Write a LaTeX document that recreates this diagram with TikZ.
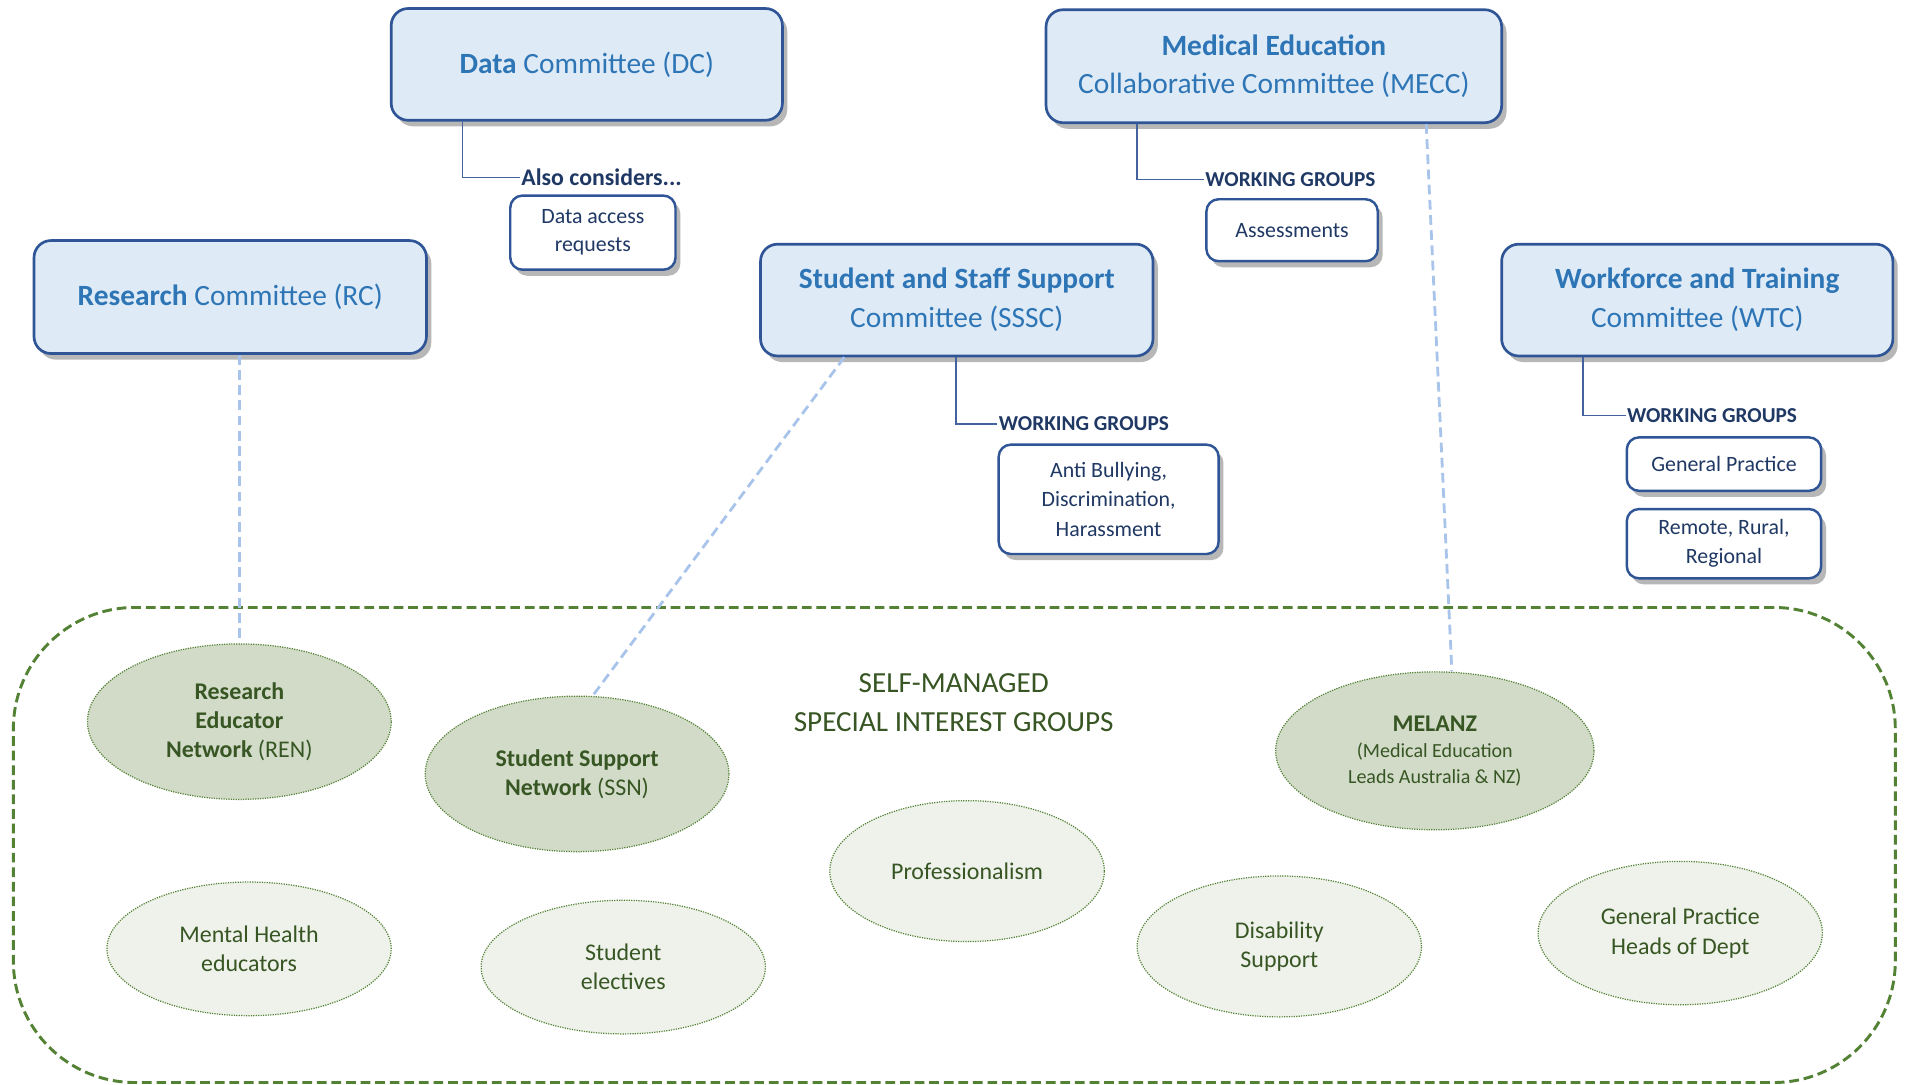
\documentclass[tikz,border=0pt]{standalone}
\usepackage{fontspec}
\setmainfont{Carlito}
\usetikzlibrary{shapes.geometric,shadows}
\definecolor{boxfill}{HTML}{DEEBF7}
\definecolor{boxline}{HTML}{2F5597}
\definecolor{titleblue}{HTML}{2E75B6}
\definecolor{navy}{HTML}{1F3864}
\definecolor{connline}{HTML}{44639E}
\definecolor{linkblue}{HTML}{A9C4EB}
\definecolor{grline}{HTML}{548235}
\definecolor{grtext}{HTML}{375623}
\definecolor{grdark}{HTML}{D1DBC8}
\definecolor{grlight}{HTML}{EEF2EA}
\begin{document}
\begin{tikzpicture}[x=1pt,y=-1pt,
 boxshadow/.style={drop shadow={shadow xshift=4pt, shadow yshift=-5pt, opacity=0.4, fill=black!70}},
 committee/.style={draw=boxline, line width=2.2pt, fill=boxfill, rounded corners=14pt, align=center, text=titleblue, font=\fontsize{24.2}{32}\selectfont, inner sep=0pt, boxshadow},
 wgbox/.style={draw=boxline, line width=2pt, fill=white, rounded corners=10pt, align=center, text=navy, font=\fontsize{18}{24}\selectfont, inner sep=0pt, boxshadow},
 wglabel/.style={anchor=west, text=navy, font=\bfseries\fontsize{17.5}{18}\selectfont, inner sep=1pt},
 conn/.style={draw=connline, line width=1pt},
 link/.style={draw=linkblue, line width=2.3pt, dash pattern=on 8pt off 4.5pt},
 sigdark/.style={ellipse, draw=grline, densely dotted, line width=1pt, fill=grdark, text=grtext, align=center, inner sep=0pt, font=\fontsize{19.7}{24}\selectfont},
 siglight/.style={sigdark, fill=grlight},
]
\fill[white] (0,0) rectangle (1568,893);
\useasboundingbox (0,0) rectangle (1568,893);

% outer group
\node[draw=grline, line width=2.4pt, dash pattern=on 8pt off 4pt, rounded corners=100pt, minimum width=1549pt, minimum height=391pt, inner sep=0pt] (sig) at (785.5,695.5) {};
\node[text=grtext, align=center, font=\fontsize{24}{32}\selectfont] (sigtitle) at (785,578) {SELF-MANAGED\\SPECIAL INTEREST GROUPS};

% committees
\node[committee, minimum width=322pt, minimum height=92pt] (dc) at (483,53) {\textbf{Data} Committee (DC)};
\node[committee, minimum width=323pt, minimum height=93pt] (rc) at (189.5,244.5) {\textbf{Research} Committee (RC)};
\node[committee, minimum width=323pt, minimum height=92pt] (sssc) at (787.5,247) {\textbf{Student and Staff Support}\\Committee (SSSC)};
\node[committee, minimum width=375pt, minimum height=93pt] (mecc) at (1048.5,54.5) {\textbf{Medical Education}\\Collaborative Committee (MECC)};
\node[committee, minimum width=322pt, minimum height=92pt] (wtc) at (1397,247) {\textbf{Workforce and Training}\\Committee (WTC)};

% labels
\node[wglabel, font=\bfseries\fontsize{19.6}{20}\selectfont] (also) at (428,146) {Also considers...};
\node[wglabel] (wgsssc) at (821,349) {WORKING GROUPS};
\node[wglabel] (wgmecc) at (991,148) {WORKING GROUPS};
\node[wglabel] (wgwtc) at (1338,342) {WORKING GROUPS};

% working group boxes
\node[wgbox, minimum width=136pt, minimum height=61pt, font=\fontsize{18}{23}\selectfont] (dar) at (488,191.5) {Data access\\requests};
\node[wgbox, minimum width=181pt, minimum height=90pt] (abdh) at (912.5,411) {Anti Bullying,\\Discrimination,\\Harassment};
\node[wgbox, minimum width=141pt, minimum height=51pt] (assess) at (1063.5,189.5) {Assessments};
\node[wgbox, minimum width=160pt, minimum height=44pt] (gp) at (1419,382) {General Practice};
\node[wgbox, minimum width=160pt, minimum height=57pt] (rrr) at (1419,447.5) {Remote, Rural,\\Regional};

% connectors
\draw[conn] ([xshift=60pt]dc.south west) |- (also.west);
\draw[conn] ([xshift=162pt]sssc.south west) |- (wgsssc.west);
\draw[conn] ([xshift=76pt]mecc.south west) |- (wgmecc.west);
\draw[conn] ([xshift=68pt]wtc.south west) |- (wgwtc.west);

% interest groups
\node[sigdark, minimum width=250pt, minimum height=128pt] (ren) at (197,594) {\textbf{Research}\\\textbf{Educator}\\\textbf{Network} (REN)};
\node[sigdark, minimum width=250pt, minimum height=128pt] (ssn) at (475,637) {\textbf{Student Support}\\\textbf{Network} (SSN)};
\node[sigdark, minimum width=262pt, minimum height=130pt, font=\fontsize{16.5}{21.5}\selectfont] (melanz) at (1181,618) {{\bfseries\fontsize{19.7}{22}\selectfont MELANZ}\\(Medical Education\\Leads Australia \& NZ)};
\node[siglight, minimum width=226pt, minimum height=116pt] (prof) at (796,717) {Professionalism};
\node[siglight, minimum width=234pt, minimum height=110pt] (mhe) at (205,781) {Mental Health\\educators};
\node[siglight, minimum width=234pt, minimum height=110pt] (se) at (513,796) {Student\\electives};
\node[siglight, minimum width=234pt, minimum height=116pt] (ds) at (1053,779) {Disability\\Support};
\node[siglight, minimum width=234pt, minimum height=118pt] (gphd) at (1383,768) {General Practice\\Heads of Dept};

% links
\draw[link] (rc.south -| ren.north) -- (ren.north);
\draw[link] ([xshift=70pt]sssc.south west) -- ([xshift=13pt]ssn.north);
\draw[link] ([xshift=314pt]mecc.south west) -- ([xshift=14pt]melanz.north);
\end{tikzpicture}
\end{document}
